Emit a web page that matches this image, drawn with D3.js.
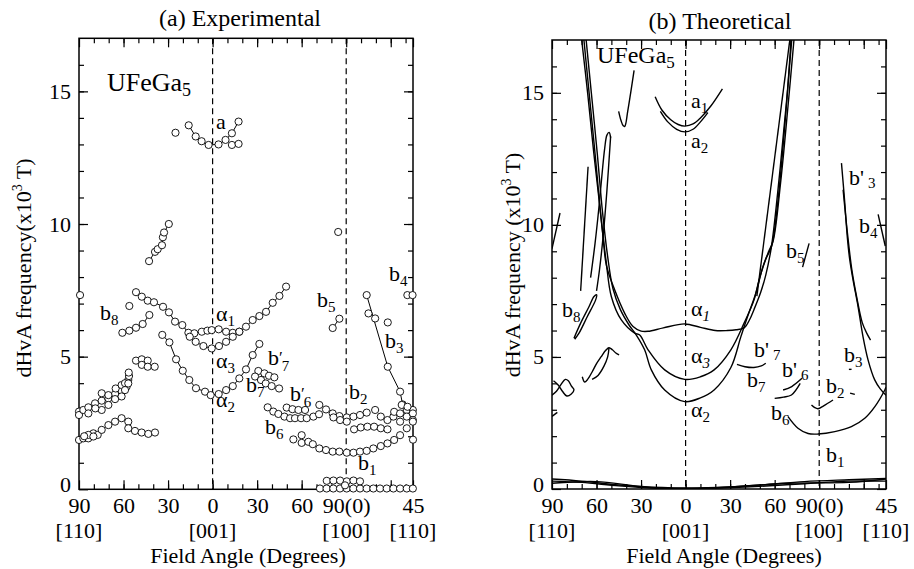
<!DOCTYPE html>
<html><head><meta charset="utf-8">
<script src="https://cdn.jsdelivr.net/npm/d3@7"></script>
<style>body{margin:0;background:#fff}svg{display:block}text{font-family:"Liberation Serif","Times New Roman",serif;fill:#000}</style>
</head><body><svg id="c" width="914" height="569"></svg>
<script>
// ---------- axis data ----------
const xTickVals = [0,30,60,90,120,150,180,225];
const xTickLabels = ["90","60","30","0","30","60","90(0)","45"];
const xDirVals = [0,90,180,225];
const xDirLabels = ["[110]","[001]","[100]","[110]"];
const xMajorExtra = [210];
const xMinor = d3.range(10,225,10);
const yMajor = [0,5,10,15];
const yMinor = d3.range(1,17,1);
const dashAngles = [90,180];

// ---------- experimental (angle position u, frequency kT) ----------
const expA = [[73.9,13.72],[78.6,13.3],[82.6,13.12],[87.3,12.98],[94,13.0],[98.7,13.17],[103,13.42],[107.5,13.86]];
const expAExtra = [[65,13.44],[103,12.98],[107.5,13.02]];
const exp10 = [[47.2,8.6],[51.2,8.95],[53,9.05],[55.9,9.2],[56.5,9.5],[57.3,9.68],[60.5,10.0]];
const alpha1Exp = [[38.4,7.43],[42.3,7.26],[46.3,7.11],[50.5,7.05],[56.6,6.88],[60.6,6.67],[64.7,6.32],[69.6,6.19],[73.7,5.9],[77.7,5.88],[82.7,5.94],[86.5,5.98],[89.4,6.0],[94.1,6.03],[99.1,5.94],[103.6,5.9],[108,5.94],[112.5,6.13],[117,6.38],[121.5,6.53],[126,6.69],[130.5,7.03],[135,7.29],[139.5,7.64]];
const alpha3Exp = [[74.6,5.75],[78.6,5.56],[83.8,5.4],[89.4,5.31],[94.3,5.4],[99.1,5.56],[103.6,5.75],[108,5.94]];
const alpha2Exp = [[56.1,5.82],[60.9,5.54],[65.4,4.9],[69.9,4.47],[74.3,4.12],[78.8,3.81],[84.9,3.68],[88.7,3.55],[94.1,3.59],[99.1,3.74],[103.6,3.89],[108,4.18],[112.5,4.52],[117,5.06],[121.5,5.48]];
const b8Exp = [[29.2,5.9],[33.9,5.98],[38.4,6.09],[42.9,6.23],[47.4,6.57]];
const b3Exp = [[193.8,7.32],[208,4.62],[216.3,3.68],[218,3.2]];
const b5Exp = [[170.9,6.08],[175.4,6.43]];
const expLowLeft = [[0,1.86],[2.9,1.92],[6.3,1.92],[9.7,2.11],[12.6,2.05],[15.3,2.24],[19.8,2.42],[24.3,2.55],[28.7,2.68],[33.2,2.55],[33.2,2.3],[37.7,2.2],[42.2,2.14],[46.7,2.09],[51.2,2.14],[6.3,2.05],[9.7,1.99],[3.5,2.0]];
const expMidLeft = [[0,2.93],[0,2.8],[2.9,2.99],[6.3,3.09],[10.8,3.24],[15.3,3.34],[19.8,3.43],[24.3,3.59],[28.7,3.72],[32.1,3.87],[33.2,4.12],[33.7,4.27],[6.3,2.86],[15.3,2.99],[19.8,3.18],[15.3,3.62],[19.8,3.55],[24.7,3.8],[28.7,3.93],[31,4.0],[31,3.74],[24.3,3.4],[33.2,3.99],[11,3.05],[28.7,3.5],[33.5,4.4]];
const exp48 = [[38.4,4.85],[42.3,4.9],[46.3,4.85],[42.3,4.69],[46.3,4.62],[51,4.62]];
const expSingles = [[0.7,7.32],[221.2,7.32],[224.7,7.32],[33.9,6.91],[174.6,9.7],[208,6.29],[195,6.63],[199.5,6.44],[225,1.87]];
const expB7p = [[120.8,4.46],[124.9,4.37],[128,4.28],[131.6,4.22]];
const expB7 = [[118.6,4.25],[122.6,4.12],[125.8,3.99],[129.8,3.89],[134.8,3.8]];
const expB6 = [[127.1,3.09],[130.9,2.93],[134.3,2.84],[138.4,2.74],[142.2,2.68],[145.5,2.68],[149.6,2.68],[153.4,2.68],[157.9,2.74],[161.7,2.83]];
const expB6p = [[139.9,3.08],[143.8,3.02],[147.8,2.99],[152.3,2.99]];
const expB2 = [[161.9,3.18],[166.4,3.01],[170.9,2.86],[175.4,2.76],[180.4,2.71],[184.9,2.74],[189.3,2.8],[193.8,2.89],[199.5,2.99],[171.4,2.71],[175.9,2.61],[180.4,2.55]];
const expB2low = [[185.3,2.26],[189.8,2.33],[194.3,2.36],[198.8,2.36],[203.3,2.3],[207.8,2.26]];
const expRight = [[203.3,2.74],[207.8,2.61],[211.8,2.74],[212.3,2.92],[216.3,2.86],[216.3,2.55],[220.8,2.99],[220.8,2.74],[224.9,2.99],[224.9,2.86],[224.9,2.61],[217.4,3.18],[221.3,3.11]];
const expB1 = [[144.4,1.88],[150,2.04],[150,1.75],[154.5,1.79],[157.5,1.7],[161.9,1.54],[166.4,1.48],[170.9,1.42],[175.4,1.42],[180.4,1.38],[184.9,1.38],[189.3,1.42],[193.8,1.45],[198.3,1.54],[203.3,1.63],[207.8,1.73],[212.3,1.86],[216.3,2.04],[220.8,2.3],[224.9,2.55]];
const expZero = [[162.3,0.03],[166.8,0.03],[171.3,0.03],[175.8,0.03],[180.3,0.03],[184.8,0.03],[189.3,0.03],[193.8,0.03],[198.3,0.03],[202.8,0.03],[207.3,0.03],[211.8,0.03],[216.3,0.03],[220.8,0.03],[224.9,0.03],[166.9,0.32],[171.4,0.33],[175.9,0.33],[180.4,0.3],[184.9,0.33],[189.3,0.3],[179.2,0.15]];

// ---------- theoretical curves ----------
const thAlpha1 = [[20,17],[24,15],[28,12.8],[32,10.8],[34.5,9.5],[36.6,8.48],[42.2,7.54],[49,6.65],[54.6,6.15],[60,5.98],[64.7,5.97],[75,6.1],[89.4,6.25],[100,6.12],[110,6.0],[118.1,6.0],[124,6.03],[129.4,6.1],[133,6.4],[136.1,6.8],[140.6,7.45],[144,8.1],[147.8,9.17],[152,11.2],[156,13.5],[158.8,15.2],[161,17]];
const thAlpha3 = [[21.5,17],[25,15],[29,12.7],[33,10.3],[36.5,8.6],[40,7.28],[46.7,6.4],[55.7,5.9],[59.1,5.83],[64.7,5.27],[75.9,4.51],[89.4,4.15],[100,4.25],[109.2,4.51],[120.5,5.27],[129.4,6.28],[136.1,7.16],[139.5,7.92],[144,8.7],[148,9.2],[152,10.8],[156,13.2],[160,16],[161.5,17]];
const thAlpha2 = [[23,17],[26.5,15],[30.5,12.7],[34,10.5],[37.5,8.8],[41,7.6],[46,6.8],[52,6.2],[56.8,5.83],[62.4,5.27],[66.9,4.51],[75.9,3.75],[89.4,3.31],[100,3.45],[109.2,3.75],[120.5,4.6],[127.2,5.76],[131.7,6.52],[137.3,7.41],[142,8.4],[146,9.0],[149,9.4],[154,11.6],[159,14.5],[163,17]];
const thStraightR = [[138,7.3],[160.2,17]];
const thA1 = [[69.5,14.85],[74,14.35],[80,13.98],[85,13.8],[89.6,13.74],[95,13.82],[100,14.05],[107,14.5],[114.8,15.15]];
const thA2 = [[73,14.3],[78,13.9],[84,13.62],[89.6,13.52],[95,13.62],[100,13.9],[105,14.25]];
const thJ = [[44.9,14.3],[46.5,13.95],[48,13.75],[49,13.73],[51,14.3],[53,15.0],[55.3,15.85]];
const thL1 = [[19.3,7.5],[24.3,12.2]];
const thL2 = [[26,8.0],[29,9.3],[31.5,10.6],[33.5,11.8],[35.5,12.9],[37,13.4],[38.5,13.5],[39.5,13.3]];
const thL3 = [[39.5,13.35],[37,11.3],[34.5,9.6],[32,8.3],[30,7.5]];
const thEdgeL = [[0,9.1],[5.4,10.45]];
const thB8 = [[14.8,5.71],[19.3,6.28],[24.9,6.9],[28.3,7.29],[30.1,7.35],[29.4,7.16],[23.8,6.53],[18.2,5.9],[15.3,5.67]];
const thLoop5a = [[20.4,4.25],[22,4.05],[24,4.15],[27.2,4.45],[30,4.75],[33,5.0],[36.2,5.25],[38.4,5.35],[40.7,5.27],[43,5.15],[45.2,5.08]];
const thLoop5b = [[38.4,5.35],[37.5,5.0],[35,4.65],[31,4.3],[27,4.15]];
const thLoopEdge = [[0,3.55],[3,3.7],[6,3.95],[9,4.15],[11,4.1],[13,3.9],[14.8,3.76],[13,3.6],[10,3.52],[7,3.7],[4,3.95],[1,4.1]];
const thTickL = [[0,2.75],[3.6,2.9]];
const thB7p = [[124.6,4.72],[130,4.63],[136,4.6],[141,4.66],[144,4.76]];
const thB6pA = [[155.7,3.75],[161.5,3.88],[168.4,4.19]];
const thB6pB = [[150,3.43],[156,3.48],[161.3,3.56],[167.2,4.0]];
const thB1 = [[159,2.74],[165.7,2.3],[172.5,2.1],[179.2,2.08],[190.5,2.17],[201.7,2.36],[210.7,2.68],[217.5,3.12],[224.2,3.75],[225,3.85]];
const thB3 = [[195,12.34],[197,11.0],[199,9.5],[200.6,8.67],[202.8,7.92],[206.2,6.9],[209.5,5.77],[212.9,4.89],[217.4,4.13],[221,3.8],[225,3.55]];
const thB3b = [[196.1,11.33],[199,9.7],[202,8.3],[205.5,7.2],[209,6.3],[212,5.9],[214.6,5.64]];
const thB2 = [[174.8,3.18],[177,3.08],[179.2,3.04],[183,3.15],[189.3,3.37]];
const thDashB2 = [[200.8,3.63],[204,3.58]];
const thDashB3 = [[200,4.53],[201.8,4.53]];
const thB5 = [[168.8,8.4],[173.2,9.3]];
const thB4 = [[219.7,10.4],[224.5,9.2]];
const thBottomA = [[0,0.38],[20,0.3],[45,0.15],[70,0.05],[90,0.02],[110,0.05],[140,0.15],[170,0.28],[200,0.35],[225,0.4]];
const thBottomB = [[0,0.3],[20,0.25],[45,0.12],[70,0.03],[90,0.0],[110,0.03],[140,0.1],[170,0.2],[200,0.3],[225,0.3]];
const thBottomC = [[0,0.22],[30,0.28],[60,0.1],[90,0.04],[120,0.08],[160,0.22],[200,0.25],[225,0.38]];

const svg = d3.select("#c");

function panel(o){
  const x = d3.scaleLinear().domain([0,225]).range([o.l,o.r]);
  const y = d3.scaleLinear().domain([0,17]).range([o.b,o.t]);
  const g = svg.append("g");
  const cid = "clip"+o.id;
  g.append("clipPath").attr("id",cid).append("rect")
    .attr("x",o.l).attr("y",o.t).attr("width",o.r-o.l).attr("height",o.b-o.t);
  const fontTick = 22;
  const axes = g.append("g").attr("font-size",fontTick);
  const sty = s => { s.select(".domain").remove(); s.selectAll("line").attr("stroke","#000").attr("stroke-width",1.2); s.selectAll("text").attr("font-family","Liberation Serif").attr("font-size",fontTick).attr("fill","#000"); };
  axes.append("g").attr("transform",`translate(${o.l},0)`).call(d3.axisLeft(y).tickValues(yMinor).tickSize(-5).tickFormat("")).call(sty);
  axes.append("g").attr("transform",`translate(${o.l},0)`).call(d3.axisLeft(y).tickValues(yMajor).tickSize(-9).tickPadding(8).tickFormat(d3.format("d"))).call(sty)
    .selectAll(".tick").filter(d=>d===0).select("text").attr("dy","0.1em");
  axes.append("g").attr("transform",`translate(${o.r},0)`).call(d3.axisRight(y).tickValues(yMinor).tickSize(-5).tickFormat("")).call(sty);
  axes.append("g").attr("transform",`translate(${o.r},0)`).call(d3.axisRight(y).tickValues(yMajor).tickSize(-9).tickFormat("")).call(sty);
  axes.append("g").attr("transform",`translate(0,${o.b})`).call(d3.axisBottom(x).tickValues(xMinor).tickSize(-5).tickFormat("")).call(sty);
  axes.append("g").attr("transform",`translate(0,${o.b})`).call(d3.axisBottom(x).tickValues(xMajorExtra).tickSize(-9).tickFormat("")).call(sty);
  axes.append("g").attr("transform",`translate(0,${o.b})`).call(d3.axisBottom(x).tickValues(xTickVals).tickSize(-9).tickPadding(8).tickFormat((d,i)=>xTickLabels[i])).call(sty);
  axes.append("g").attr("transform",`translate(0,${o.t})`).call(d3.axisTop(x).tickValues(xMinor).tickSize(-5).tickFormat("")).call(sty);
  axes.append("g").attr("transform",`translate(0,${o.t})`).call(d3.axisTop(x).tickValues(xMajorExtra.concat(xTickVals)).tickSize(-9).tickFormat("")).call(sty);
  xDirVals.forEach((v,i)=>{
    g.append("text").attr("x",x(v)).attr("y",o.b+48.5).attr("text-anchor","middle").attr("font-size",22).text(xDirLabels[i]);
  });
  g.append("rect").attr("x",o.l).attr("y",o.t).attr("width",o.r-o.l).attr("height",o.b-o.t)
    .attr("fill","none").attr("stroke","#000").attr("stroke-width",1.5);
  dashAngles.forEach(a=>{
    g.append("line").attr("x1",x(a)).attr("x2",x(a)).attr("y1",o.t).attr("y2",o.b)
      .attr("stroke","#000").attr("stroke-width",1.2).attr("stroke-dasharray","6,4");
  });
  g.append("text").attr("x",o.titleX).attr("y",o.titleY).attr("text-anchor","middle").attr("font-size",24).text(o.title);
  g.append("text").attr("x",o.xlabX).attr("y",o.b+73.5).attr("text-anchor","middle").attr("font-size",22).text("Field Angle (Degrees)");
  const yl = g.append("text").attr("transform",`translate(${o.ylabX},${o.ylabY}) rotate(-90)`).attr("text-anchor","middle").attr("font-size",22);
  yl.append("tspan").text(o.ylabText);
  yl.append("tspan").attr("font-size",14).attr("dy",-9).text("3");
  yl.append("tspan").attr("dy",9).text(" T)");
  const data = g.append("g").attr("clip-path",`url(#${cid})`);
  return {x,y,g,data};
}

function label(g,x,y,main,sub,opt={}){
  const t = g.append("text").attr("x",x).attr("y",y).attr("font-size",opt.size||22);
  t.append("tspan").text(main);
  if(opt.stack){
    t.append("tspan").attr("font-size",17).attr("dy",-2).text("\u2032");
    t.append("tspan").attr("font-size",15).attr("dx",-1).attr("dy",8).text(sub);
    return;
  }
  if(sub!==undefined){
    const s = t.append("tspan").attr("font-size",opt.subSize||15).attr("dy",opt.subDy||5).text(sub);
    if(opt.dx) s.attr("dx",opt.dx);
    if(opt.italic) s.attr("font-style","italic");
  }
}

// ---------- panel (a) ----------
const A = panel({id:"a",l:79,r:413,t:38.3,b:489.3,title:"(a) Experimental",titleX:240,titleY:26,
  xlabX:248,ylabX:31,ylabY:268,ylabText:"dHvA frequency(x10"});
const lineA = d3.line().x(d=>A.x(d[0])).y(d=>A.y(d[1]));
[expA,exp10,alpha1Exp,alpha3Exp,alpha2Exp,b8Exp,b3Exp,b5Exp].forEach(s=>{
  A.data.append("path").attr("d",lineA(s)).attr("fill","none").attr("stroke","#000").attr("stroke-width",1);
});
const allExp = [].concat(expA,expAExtra,exp10,alpha1Exp,alpha3Exp,alpha2Exp,b8Exp,b3Exp,b5Exp,expLowLeft,expMidLeft,exp48,expSingles,expB7p,expB7,expB6,expB6p,expB2,expB2low,expRight,expB1,expZero);
A.g.append("g").selectAll("circle").data(allExp).join("circle")
  .attr("cx",d=>A.x(d[0])).attr("cy",d=>A.y(d[1])).attr("r",3.6)
  .attr("fill","#fff").attr("stroke","#000").attr("stroke-width",0.9);

label(A.g,107,91,"UFeGa","5",{size:26,subSize:18,subDy:5});
label(A.g,216,129,"a");
label(A.g,216,321,"\u03b1","1");
label(A.g,216,368,"\u03b1","3");
label(A.g,216,407,"\u03b1","2");
label(A.g,100,320,"b","8");
label(A.g,268,365,"b","7",{stack:true});
label(A.g,246,392,"b","7");
label(A.g,290,401,"b","6",{stack:true});
label(A.g,265,434,"b","6");
label(A.g,349,399,"b","2");
label(A.g,358,470,"b","1");
label(A.g,317,307,"b","5");
label(A.g,385,348,"b","3");
label(A.g,389,281,"b","4");

// ---------- panel (b) ----------
const B = panel({id:"b",l:552,r:886,t:40,b:489,title:"(b) Theoretical",titleX:720,titleY:29,
  xlabX:724,ylabX:520,ylabY:265,ylabText:"dHvA frequency (x10"});
const lineB = d3.line().x(d=>B.x(d[0])).y(d=>B.y(d[1])).curve(d3.curveCatmullRom.alpha(0.5));
[thAlpha1,thAlpha3,thAlpha2,thStraightR,thA1,thA2,thJ,thL1,thL2,thL3,thEdgeL,thB8,thLoop5a,thLoop5b,thLoopEdge,thTickL,
 thB7p,thB6pA,thB6pB,thB1,thB3,thB3b,thB2,thDashB2,thDashB3,thB5,thB4,thBottomA,thBottomB,thBottomC].forEach(s=>{
  B.data.append("path").attr("d",lineB(s)).attr("fill","none").attr("stroke","#000").attr("stroke-width",1.4);
});
label(B.g,597,63,"UFeGa","5",{size:24,subSize:17,subDy:5});
label(B.g,691,108,"a","1");
label(B.g,691,148,"a","2");
label(B.g,849,185,"b'","3",{dx:4,subDy:3});
label(B.g,859,233,"b","4");
label(B.g,786,258,"b","5");
label(B.g,562,317,"b","8");
label(B.g,691,316,"\u03b1","1",{italic:true});
label(B.g,691,363,"\u03b1","3",{italic:true});
label(B.g,691,417,"\u03b1","2");
label(B.g,754,357,"b'","7",{dx:4,subDy:3});
label(B.g,747,387,"b","7");
label(B.g,782,377,"b'","6",{dx:4,subDy:3});
label(B.g,771,420,"b","6");
label(B.g,844,362,"b","3");
label(B.g,826,393,"b","2");
label(B.g,826,462,"b","1");
</script></body></html>
